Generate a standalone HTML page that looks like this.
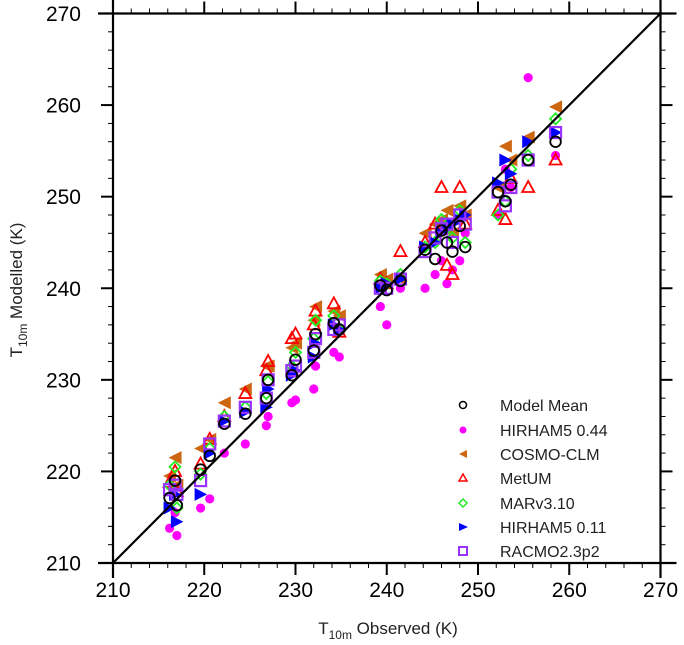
<!DOCTYPE html>
<html><head><meta charset="utf-8"><style>
body{margin:0;background:#fff;}
svg{display:block;font-family:"Liberation Sans",Arial,sans-serif;}
</style></head><body>
<svg id="chart" width="684" height="645" viewBox="0 0 684 645" xmlns="http://www.w3.org/2000/svg"></svg>
<script>
const xTicks=[210,220,230,240,250,260,270];
const yTicks=[210,220,230,240,250,260,270];
const obs=[216.2,216.8,217.0,219.6,220.6,222.2,224.5,226.8,227.0,229.6,230.0,232.0,232.2,234.2,234.8,239.3,240.0,241.5,244.2,245.3,246.0,246.6,247.2,248.0,248.6,252.2,253.0,253.6,255.5,258.5];
const meanVals=[217.1,219.0,216.3,220.2,221.7,225.2,226.3,228.0,230.0,230.5,232.2,233.2,235.0,236.2,235.5,240.3,239.8,240.8,244.2,243.2,246.3,245.0,244.0,246.8,244.5,250.5,249.5,251.3,254.0,256.0];
const hirham044=[213.8,215.5,213.0,216.0,217.0,222.0,223.0,225.0,226.0,227.5,227.8,229.0,231.5,233.0,232.5,238.0,236.0,240.0,240.0,241.5,243.0,240.5,242.0,243.0,246.0,248.0,253.0,251.0,263.0,254.5];
const cosmo=[219.5,221.5,218.5,222.5,223.5,227.5,229.0,231.5,231.5,233.5,234.0,236.5,238.0,237.5,237.0,241.5,241.0,241.0,246.0,247.0,247.5,248.5,246.0,249.0,248.0,251.0,255.5,254.0,256.5,259.8];
const metum=[218.8,220.0,217.8,220.8,223.5,226.0,228.5,231.0,232.0,234.5,235.0,236.0,237.5,238.3,235.2,241.0,240.5,244.0,245.0,247.0,251.0,242.5,241.5,251.0,247.0,248.5,247.5,252.0,251.0,254.0];
const mar=[218.5,220.5,216.0,219.7,222.5,226.0,227.0,228.5,229.8,231.5,233.0,234.5,236.5,237.0,235.5,240.8,240.5,241.5,244.5,245.0,247.5,246.5,245.5,248.5,245.0,248.0,249.5,253.0,254.5,258.5];
const hirham011=[216.0,217.5,214.5,217.5,222.0,225.5,226.5,227.0,229.0,230.5,231.0,232.5,234.0,236.0,235.5,240.0,240.5,241.0,244.5,245.0,246.0,246.5,247.0,247.5,248.0,251.5,254.0,252.5,256.0,257.0];
const racmo=[218.0,218.5,217.5,219.0,223.0,225.5,227.0,228.0,230.0,231.0,231.5,233.0,234.5,235.5,236.0,240.0,240.0,241.0,244.0,245.5,246.5,247.0,245.0,248.0,247.0,250.5,249.0,251.0,254.0,257.0];
const seriesNames=["Model Mean","HIRHAM5 0.44","COSMO-CLM","MetUM","MARv3.10","HIRHAM5 0.11","RACMO2.3p2"];

const NS="http://www.w3.org/2000/svg";
const svg=document.getElementById('chart');
const X0=113,X1=660.5,Y0=563,Y1=13.5;
function sx(v){return X0+(v-210)/60*(X1-X0);}
function sy(v){return Y0-(v-210)/60*(Y0-Y1);}
function mk(tag,attrs,parent){const e=document.createElementNS(NS,tag);for(const k in attrs)e.setAttribute(k,attrs[k]);(parent||svg).appendChild(e);return e;}

const marks=mk('g',{});


function marker(kind,cx,cy,parent){
  let e;
  if(kind==='racmo'){e=mk('rect',{x:cx-5.5,y:cy-5.5,width:11,height:11,fill:'none',stroke:'#9933ff','stroke-width':2.2},parent);}
  else if(kind==='hirham011'){e=mk('polygon',{points:`${cx-6},${cy-6.5} ${cx+6.5},${cy} ${cx-6},${cy+6.5}`,fill:'#0000ff'},parent);}
  else if(kind==='mar'){e=mk('polygon',{points:`${cx},${cy-5.5} ${cx+5.5},${cy} ${cx},${cy+5.5} ${cx-5.5},${cy}`,fill:'none',stroke:'#22ee22','stroke-width':1.8},parent);}
  else if(kind==='metum'){e=mk('polygon',{points:`${cx},${cy-6.5} ${cx+6},${cy+4.5} ${cx-6},${cy+4.5}`,fill:'none',stroke:'#ff0000','stroke-width':1.8},parent);}
  else if(kind==='cosmo'){e=mk('polygon',{points:`${cx+6.5},${cy-6.5} ${cx-6.5},${cy} ${cx+6.5},${cy+6.5}`,fill:'#cc6611'},parent);}
  else if(kind==='hirham044'){e=mk('circle',{cx:cx,cy:cy,r:4.6,fill:'#ff00ff'},parent);}
  else {e=mk('circle',{cx:cx,cy:cy,r:5.3,fill:'none',stroke:'#000','stroke-width':1.8},parent);}
  return e;
}
const order=[['hirham044',hirham044],['cosmo',cosmo],['metum',metum],['mar',mar],['hirham011',hirham011],['racmo',racmo],['mean',meanVals]];
order.forEach(([k,vals])=>{
  vals.forEach((v,i)=>{
    const e=marker(k,sx(obs[i]),sy(v),marks);
    
    
  });
});

const l=mk('line',{x1:sx(210),y1:sy(210),x2:sx(270),y2:sy(270),stroke:'#000','stroke-width':2.2});



const fr=mk('g',{stroke:'#000','stroke-width':2.2});


mk('line',{x1:X0-15,y1:Y0,x2:X1+16,y2:Y0},fr);
mk('line',{x1:X0-15,y1:Y1,x2:X1+16,y2:Y1},fr);
mk('line',{x1:X0,y1:Y0+15,x2:X0,y2:Y1-15},fr);
mk('line',{x1:X1,y1:Y0+15,x2:X1,y2:Y1-15},fr);
const tg=mk('g',{stroke:'#000'});


for(let v=210;v<=270;v+=2){
  const major=(v%10===0), len=major?12:5, w=major?2:1;
  const x=sx(v),y=sy(v);
  mk('line',{x1:x,y1:Y0,x2:x,y2:Y0+len,'stroke-width':w},tg);
  mk('line',{x1:x,y1:Y1,x2:x,y2:Y1-len,'stroke-width':w},tg);
  mk('line',{x1:X0,y1:y,x2:X0-len,y2:y,'stroke-width':w},tg);
  mk('line',{x1:X1,y1:y,x2:X1+len,y2:y,'stroke-width':w},tg);
}
xTicks.forEach(v=>{
  const t=mk('text',{x:sx(v),y:597,'text-anchor':'middle','font-size':21,fill:'#000'});
  t.textContent=v;
  
  
});
yTicks.forEach(v=>{
  const t=mk('text',{x:81,y:sy(v)+7.5,'text-anchor':'end','font-size':21,fill:'#000'});
  t.textContent=v;
  
  
});
const lg=mk('g',{});


const legKinds=['mean','hirham044','cosmo','metum','mar','hirham011','racmo'];
const legY=[405,430,454,478,503,527,551];
seriesNames.forEach((n,i)=>{
  const g=mk('g',{},lg);
  
  
  const k=legKinds[i];
  const cx=463, cy=legY[i];
  if(k==='mean')mk('circle',{cx,cy,r:3.5,fill:'none',stroke:'#000','stroke-width':1.5},g);
  else if(k==='hirham044')mk('circle',{cx,cy,r:3.5,fill:'#ff00ff'},g);
  else if(k==='cosmo')mk('polygon',{points:`${cx+4},${cy-4} ${cx-4},${cy} ${cx+4},${cy+4}`,fill:'#cc6611'},g);
  else if(k==='metum')mk('polygon',{points:`${cx},${cy-4} ${cx+4},${cy+3} ${cx-4},${cy+3}`,fill:'none',stroke:'#ff0000','stroke-width':1.5},g);
  else if(k==='mar')mk('polygon',{points:`${cx},${cy-4} ${cx+4},${cy} ${cx},${cy+4} ${cx-4},${cy}`,fill:'none',stroke:'#22ee22','stroke-width':1.5},g);
  else if(k==='hirham011')mk('polygon',{points:`${cx-4},${cy-4} ${cx+5},${cy} ${cx-4},${cy+4}`,fill:'#0000ff'},g);
  else mk('rect',{x:cx-4,y:cy-4,width:8,height:8,fill:'none',stroke:'#9933ff','stroke-width':2},g);
  const t=mk('text',{x:500,y:cy+6,'font-size':16,fill:'#222'},g);
  t.textContent=n;
});
const xt=mk('text',{x:388,y:634,'text-anchor':'middle','font-size':17,fill:'#222'});


xt.innerHTML='T<tspan font-size="12" dy="5">10m</tspan><tspan dy="-5"> Observed (K)</tspan>';
const yt=mk('text',{x:0,y:0,'text-anchor':'middle','font-size':17,fill:'#222',transform:'translate(22,290) rotate(-90)'});


yt.innerHTML='T<tspan font-size="12" dy="5">10m</tspan><tspan dy="-5"> Modelled (K)</tspan>';
</script>
</body></html>
